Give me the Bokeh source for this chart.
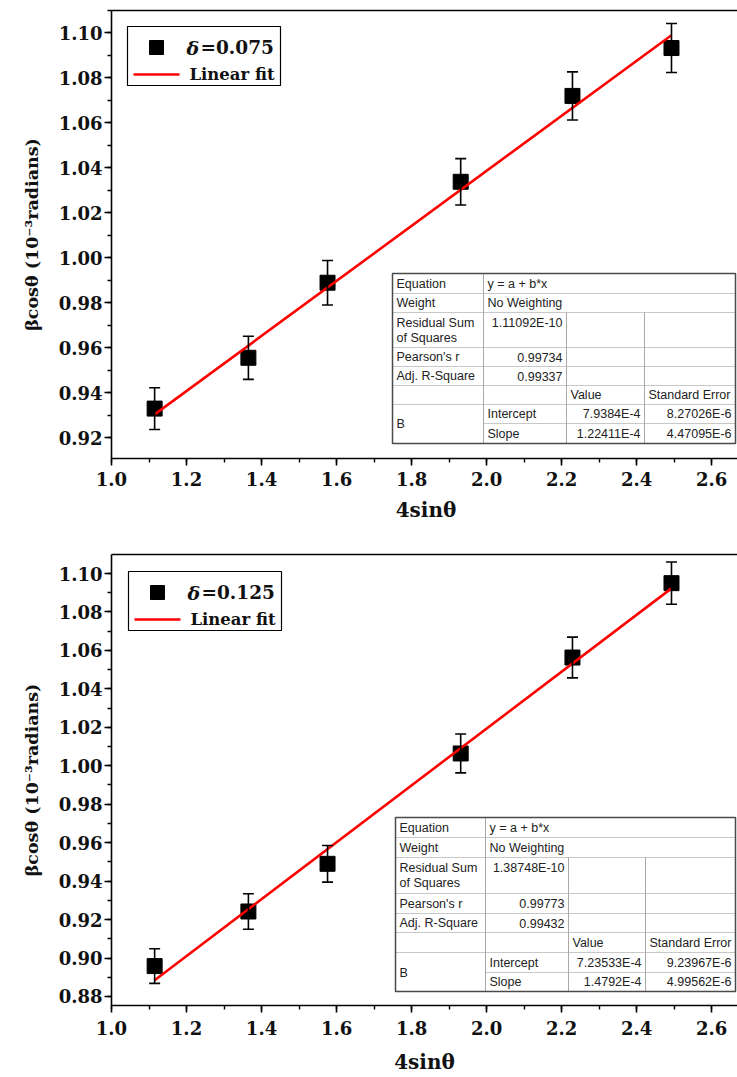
from bokeh.plotting import figure
from bokeh.models import (Range1d, Whisker, TeeHead, ColumnDataSource,
                          LinearAxis, FixedTicker, SingleIntervalTicker, NumeralTickFormatter)
from bokeh.layouts import column
from bokeh.embed import file_html
from bokeh.resources import INLINE
from bokeh.core.properties import value

# ---------------- data ----------------
x_4sin = [1.115, 1.365, 1.576, 1.931, 2.229, 2.493]

y_d075 = [0.9329, 0.9555, 0.9889, 1.0338, 1.0720, 1.0933]
err_d075 = [0.0093, 0.0096, 0.0099, 0.0103, 0.0107, 0.0109]

y_d125 = [0.8958, 0.9242, 0.9490, 1.0064, 1.0563, 1.0950]
err_d125 = [0.0090, 0.0092, 0.0095, 0.0101, 0.0106, 0.0110]

# fit parameters (in 10^-3 rad units): intercept, slope
fit_d075 = [0.79384, 0.122411]
fit_d125 = [0.723533, 0.14792]

legend_values = ["=0.075", "=0.125"]
legend_symbol = "δ"
legend_fit = "Linear fit"

# fit-table texts
tbl_rss = ["1.11092E-10", "1.38748E-10"]
tbl_pearson = ["0.99734", "0.99773"]
tbl_adjr2 = ["0.99337", "0.99432"]
tbl_intercept = ["7.9384E-4", "7.23533E-4"]
tbl_intercept_err = ["8.27026E-6", "9.23967E-6"]
tbl_slope = ["1.22411E-4", "1.4792E-4"]
tbl_slope_err = ["4.47095E-6", "4.99562E-6"]

x_axis_label = "4sinθ"
y_axis_label = "βcosθ (10⁻³radians)"

SERIF = "DejaVu Serif"
SANS = "Liberation Sans"


def px_conv(fr):
    def X(px):
        return fr["x0"] + px / fr["w"] * (fr["x1"] - fr["x0"])

    def Y(py):
        return fr["y1"] - py / fr["h"] * (fr["y1"] - fr["y0"])
    return X, Y


def draw_table(p, fr, left, top, col_w, row_h, k):
    X, Y = px_conv(fr)
    ce = [left]
    for w in col_w:
        ce.append(ce[-1] + w)
    re_ = [top]
    for h in row_h:
        re_.append(re_[-1] + h)

    p.quad(left=[X(ce[0])], right=[X(ce[-1])], top=[Y(re_[0])], bottom=[Y(re_[-1])],
           fill_color="white", line_color=None)
    x0s, x1s, y0s, y1s = [], [], [], []
    for i in range(1, len(re_) - 1):
        start = ce[1] if i == 7 else ce[0]
        x0s.append(X(start)); x1s.append(X(ce[-1]))
        y0s.append(Y(re_[i])); y1s.append(Y(re_[i]))
    p.segment(x0=x0s, x1=x1s, y0=y0s, y1=y1s, line_color="#c8c8c8", line_width=1)
    vx, vy0 = [ce[1], ce[2], ce[3]], [re_[0], re_[2], re_[2]]
    p.segment(x0=[X(v) for v in vx], x1=[X(v) for v in vx],
              y0=[Y(v) for v in vy0], y1=[Y(re_[-1])] * 3,
              line_color="#a8a8a8", line_width=1)
    p.quad(left=[X(ce[0])], right=[X(ce[-1])], top=[Y(re_[0])], bottom=[Y(re_[-1])],
           fill_color=None, line_color="#4a4a4a", line_width=1.5)

    def mid(i):
        return (re_[i] + re_[i + 1]) / 2
    left_cells = [
        (ce[0] + 4, mid(0), "Equation"),
        (ce[1] + 4, mid(0), "y = a + b*x"),
        (ce[0] + 4, mid(1), "Weight"),
        (ce[1] + 4, mid(1), "No Weighting"),
        (ce[0] + 4, re_[2] + 10, "Residual Sum"),
        (ce[0] + 4, re_[2] + 25, "of Squares"),
        (ce[0] + 4, mid(3), "Pearson's r"),
        (ce[0] + 4, mid(4), "Adj. R-Square"),
        (ce[2] + 4, mid(5), "Value"),
        (ce[3] + 4, mid(5), "Standard Error"),
        (ce[0] + 4, re_[7], "B"),
        (ce[1] + 4, mid(6), "Intercept"),
        (ce[1] + 4, mid(7), "Slope"),
    ]
    right_cells = [
        (ce[2] - 4, re_[2] + 10, tbl_rss[k]),
        (ce[2] - 4, mid(3), tbl_pearson[k]),
        (ce[2] - 4, mid(4), tbl_adjr2[k]),
        (ce[3] - 4, mid(6), tbl_intercept[k]),
        (ce[4] - 4, mid(6), tbl_intercept_err[k]),
        (ce[3] - 4, mid(7), tbl_slope[k]),
        (ce[4] - 4, mid(7), tbl_slope_err[k]),
    ]
    for cells, align in ((left_cells, "left"), (right_cells, "right")):
        p.text(x=[X(c[0]) for c in cells], y=[Y(c[1]) for c in cells], text=[c[2] for c in cells],
               text_font=value(SANS), text_font_size="12.5px", text_color="#222222",
               text_align=align, text_baseline="middle")


def draw_legend(p, fr, k, sq, dx, dy):
    X, Y = px_conv(fr)
    # box
    p.quad(left=[X(16 + dx)], right=[X(169 + dx)], top=[Y(16 + dy)], bottom=[Y(75 + dy)],
           fill_color="white", line_color="black", line_width=1.2)
    # symbols
    p.scatter(x=[X(45 + dx)], y=[Y(37 + dy)], marker="square", size=sq,
              fill_color="black", line_color="black")
    p.line(x=[X(22 + dx), X(68 + dx)], y=[Y(64 + dy), Y(64 + dy)],
           line_color="#ff0000", line_width=2.6)
    # labels
    p.text(x=[X(75 + dx)], y=[Y(37 + dy)], text=[legend_symbol], text_font=value(SERIF),
           text_font_style="bold italic", text_font_size="19px", text_color="#111111",
           text_align="left", text_baseline="middle")
    p.text(x=[X(89 + dx)], y=[Y(37 + dy)], text=[legend_values[k]], text_font=value(SERIF),
           text_font_style="bold", text_font_size="18.5px", text_color="#111111",
           text_align="left", text_baseline="middle")
    p.text(x=[X(78 + dx)], y=[Y(64 + dy)], text=[legend_fit], text_font=value(SERIF),
           text_font_style="bold", text_font_size="16.5px", text_color="#111111",
           text_align="left", text_baseline="middle")


def make_plot(k, yvals, errs, fit, fr, border_left, border_top, table_geo,
              lab_standoff, axlab_standoff, leg_shift):
    p = figure(frame_width=fr["w"], frame_height=fr["h"],
               x_range=Range1d(fr["x0"], fr["x1"]), y_range=Range1d(fr["y0"], fr["y1"]),
               output_backend="svg", toolbar_location=None, tools="",
               min_border_left=border_left, min_border_right=0,
               min_border_top=border_top, min_border_bottom=72,
               background_fill_color="white", border_fill_color="white")
    p.outline_line_color = None
    p.xgrid.visible = False
    p.ygrid.visible = False

    p.xaxis.ticker = SingleIntervalTicker(interval=0.2, num_minor_ticks=2)
    p.yaxis.ticker = SingleIntervalTicker(interval=0.02, num_minor_ticks=2)
    p.xaxis.formatter = NumeralTickFormatter(format="0.0")
    p.yaxis.formatter = NumeralTickFormatter(format="0.00")
    for ax in (p.xaxis[0], p.yaxis[0]):
        ax.axis_line_width = 1.6
        ax.axis_line_color = "black"
        ax.major_tick_line_width = 1.6
        ax.minor_tick_line_width = 1.4
        ax.major_tick_line_color = "black"
        ax.minor_tick_line_color = "black"
        ax.major_tick_in = 0
        ax.minor_tick_in = 0
        ax.major_tick_out = 7
        ax.minor_tick_out = 4
        ax.major_label_text_font = SERIF
        ax.major_label_text_font_style = "bold"
        ax.major_label_text_font_size = "18px"
        ax.major_label_text_color = "#111111"
        ax.axis_label_text_font = SERIF
        ax.axis_label_text_font_style = "bold"
        ax.axis_label_text_color = "#111111"
    p.xaxis.axis_label_text_font_size = "20px"
    p.yaxis.axis_label_text_font_size = "17.5px"
    p.xaxis.major_label_standoff = lab_standoff
    p.yaxis.major_label_standoff = 2
    p.xaxis.axis_label = x_axis_label
    p.yaxis.axis_label = y_axis_label
    p.xaxis.axis_label_standoff = axlab_standoff
    p.yaxis.axis_label_standoff = 14

    top_ax = LinearAxis(ticker=FixedTicker(ticks=[]), major_label_text_font_size="0px",
                        major_tick_out=0, minor_tick_out=0, axis_line_width=1.6,
                        axis_line_color="black")
    p.add_layout(top_ax, "above")

    lower = [y - e for y, e in zip(yvals, errs)]
    upper = [y + e for y, e in zip(yvals, errs)]
    src = ColumnDataSource(dict(x=x_4sin, y=yvals, lower=lower, upper=upper))
    wh = Whisker(source=src, base="x", lower="lower", upper="upper", dimension="height",
                 line_color="black", line_width=1.6, level="glyph",
                 upper_head=TeeHead(size=11, line_width=1.6, line_color="black"),
                 lower_head=TeeHead(size=11, line_width=1.6, line_color="black"))
    p.add_layout(wh)
    p.scatter("x", "y", source=src, marker="square", size=15,
              fill_color="black", line_color="black")
    xs_fit = [min(x_4sin), max(x_4sin)]
    ys_fit = [fit[0] + fit[1] * xv for xv in xs_fit]
    p.line(xs_fit, ys_fit, line_color="#ff0000", line_width=2.6)

    draw_table(p, fr, *table_geo, k)
    draw_legend(p, fr, k, 14, *leg_shift)
    return p


fr_top = dict(x0=1.0, x1=2.677, y0=0.9107, y1=1.11, w=629, h=448)
fr_bot = dict(x0=1.0, x1=2.669, y0=0.8753, y1=1.1099, w=626, h=451)

p1 = make_plot(0, y_d075, err_d075, fit_d075, fr_top, 108, 10,
               (281, 263, [91, 83, 78, 91], [20, 19, 35, 19, 19, 19, 19, 20]),
               6, 9, (0, 0))
p2 = make_plot(1, y_d125, err_d125, fit_d125, fr_bot, 111, 24,
               (284, 263, [90, 83, 77, 90], [20, 20, 36, 20, 19, 20, 20, 19]),
               8, 12, (1, 1))

layout = column(p1, p2, spacing=0)
open("out.html", "w").write(file_html(layout, INLINE))
